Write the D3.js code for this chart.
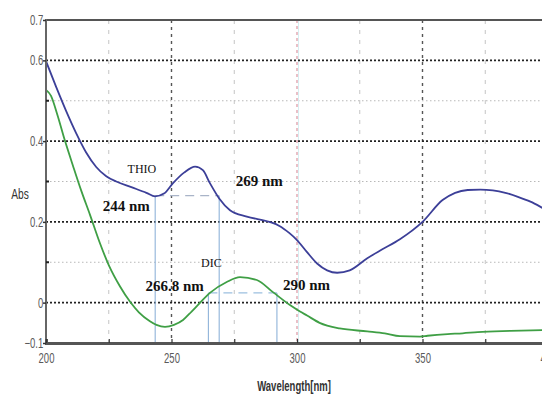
<!DOCTYPE html>
<html>
<head>
<meta charset="utf-8">
<script src="https://cdn.jsdelivr.net/npm/d3@7"></script>
<style>
  html, body { margin: 0; padding: 0; background: #fff; }
  svg { display: block; }
  .tick-label { font-family: "Liberation Sans", Arial, sans-serif; fill: #5a5a5a; font-size: 14px; }
  .note { font-family: "Liberation Serif", "DejaVu Serif", serif; fill: #111; }
</style>
</head>
<body>
<svg id="chart" width="542" height="396"></svg>
<script>
// ---- data ----
const thioWavelength = [200, 204, 208, 212, 216, 220, 224, 228, 234, 240, 243.5, 247, 250.6, 255, 259.4, 262.5, 265.3, 269, 273.3, 280, 289, 293, 297, 300, 304, 308, 312, 316, 321, 328, 334, 341, 350, 358, 363, 368, 373, 378, 383, 388, 393, 398, 405];
const thioAbs        = [0.598, 0.535, 0.475, 0.42, 0.372, 0.336, 0.313, 0.300, 0.286, 0.272, 0.263, 0.270, 0.296, 0.322, 0.337, 0.328, 0.296, 0.258, 0.229, 0.213, 0.200, 0.190, 0.172, 0.155, 0.125, 0.097, 0.080, 0.074, 0.080, 0.110, 0.132, 0.157, 0.200, 0.254, 0.272, 0.279, 0.280, 0.278, 0.272, 0.262, 0.250, 0.234, 0.210];

const dicWavelength = [200, 202, 204.4, 207.5, 210.8, 214, 217.5, 221.5, 225, 229.5, 233.5, 237, 241.4, 244, 247.4, 251, 254.6, 258, 260.2, 265.3, 272, 277.3, 284, 290.4, 297.2, 301.2, 304, 309, 317, 328, 335, 341, 349, 352, 360, 366, 372, 385, 398, 405];
const dicAbs        = [0.527, 0.512, 0.468, 0.402, 0.338, 0.278, 0.218, 0.147, 0.093, 0.040, 0.002, -0.024, -0.046, -0.055, -0.060, -0.055, -0.043, -0.022, -0.008, 0.024, 0.051, 0.063, 0.056, 0.026, -0.006, -0.022, -0.032, -0.050, -0.064, -0.071, -0.076, -0.083, -0.084, -0.082, -0.078, -0.076, -0.073, -0.070, -0.068, -0.067];

const xTickValues = [200, 225, 250, 275, 300, 325, 350, 375, 400];
const xTickLabels = ["200", "", "250", "", "300", "", "350", "", "400"];
const yTickLabels = [0.7, 0.6, 0.4, 0.2, 0, -0.1];
const yMinorValues = [0.5, 0.3, 0.1];
const yMajorGrid = [0.6, 0.4, 0.2, 0];
const xMinorGrid = [225, 275, 325, 375];
const xMajorGrid = [250, 350];
const xCursorGrid = [300];

// peak/valley markers
const thioMarkers = [243.5, 269];
const thioMarkerLevel = 0.265;
const dicMarkers = [264.7, 292];
const dicMarkerLevel = 0.024;

const annotations = [
  { text: "THIO", wl: 232.5, abs: 0.322, size: 12, weight: "normal" },
  { text: "244 nm", wl: 222.6, abs: 0.226, size: 15, weight: "bold" },
  { text: "269 nm", wl: 275.6, abs: 0.288, size: 15, weight: "bold" },
  { text: "DIC", wl: 261.8, abs: 0.087, size: 12, weight: "normal" },
  { text: "266.8 nm", wl: 239.6, abs: 0.030, size: 15, weight: "bold" },
  { text: "290 nm", wl: 294.4, abs: 0.032, size: 15, weight: "bold" }
];

// ---- layout ----
const svg = d3.select("#chart");
const mLeft = 46, mTop = 20, mBottom = 343, mRight = 548;
const x = d3.scaleLinear().domain([200, 400]).range([mLeft, mRight]);
const y = d3.scaleLinear().domain([-0.1, 0.7]).range([mBottom, mTop]);
const squeeze = 0.68;

svg.append("defs").append("clipPath").attr("id", "clip")
  .append("rect").attr("x", mLeft).attr("y", mTop).attr("width", mRight - mLeft).attr("height", mBottom - mTop);

const grid = svg.append("g");
grid.selectAll(".hmin").data(yMinorValues).join("line")
  .attr("x1", mLeft).attr("x2", 542).attr("y1", d => y(d)).attr("y2", d => y(d))
  .attr("stroke", "#b8b8b8").attr("stroke-width", 1).attr("stroke-dasharray", "1.5,2.5");
grid.selectAll(".vmin").data(xMinorGrid).join("line")
  .attr("x1", d => x(d)).attr("x2", d => x(d)).attr("y1", mTop).attr("y2", mBottom)
  .attr("stroke", "#c4c4c4").attr("stroke-width", 1).attr("stroke-dasharray", "4,6");
grid.selectAll(".vmaj").data(xMajorGrid).join("line")
  .attr("x1", d => x(d)).attr("x2", d => x(d)).attr("y1", mTop).attr("y2", mBottom)
  .attr("stroke", "#555").attr("stroke-width", 1.4).attr("stroke-dasharray", "3,4");
grid.selectAll(".vcur").data(xCursorGrid).join("line")
  .attr("x1", d => x(d) + 1.5).attr("x2", d => x(d) + 1.5).attr("y1", mTop).attr("y2", mBottom)
  .attr("stroke", "#d6eef2").attr("stroke-width", 1);
grid.selectAll(".vcur2").data(xCursorGrid).join("line")
  .attr("x1", d => x(d)).attr("x2", d => x(d)).attr("y1", mTop).attr("y2", mBottom)
  .attr("stroke", "#d98c9a").attr("stroke-width", 1.1).attr("stroke-dasharray", "3,3");
grid.selectAll(".hmaj").data(yMajorGrid).join("line")
  .attr("x1", mLeft).attr("x2", 542).attr("y1", d => y(d)).attr("y2", d => y(d))
  .attr("stroke", "#222").attr("stroke-width", 1.8).attr("stroke-dasharray", "2,2");

// marker lines
const mk = svg.append("g");
const thioSeries = thioWavelength.map((w, i) => [w, thioAbs[i]]);
const dicSeries = dicWavelength.map((w, i) => [w, dicAbs[i]]);
mk.selectAll(".tv").data(thioMarkers).join("line")
  .attr("x1", d => x(d)).attr("x2", d => x(d)).attr("y1", y(thioMarkerLevel)).attr("y2", mBottom)
  .attr("stroke", "#8fb3d9").attr("stroke-width", 1.1);
mk.append("line")
  .attr("x1", x(thioMarkers[0])).attr("x2", x(thioMarkers[1])).attr("y1", y(thioMarkerLevel)).attr("y2", y(thioMarkerLevel))
  .attr("stroke", "#a9b4c8").attr("stroke-width", 1.2).attr("stroke-dasharray", "9,6");
mk.selectAll(".dv").data(dicMarkers).join("line")
  .attr("x1", d => x(d)).attr("x2", d => x(d)).attr("y1", y(dicMarkerLevel)).attr("y2", mBottom)
  .attr("stroke", "#8fb3d9").attr("stroke-width", 1.1);
mk.append("line")
  .attr("x1", x(dicMarkers[0])).attr("x2", x(dicMarkers[1])).attr("y1", y(dicMarkerLevel)).attr("y2", y(dicMarkerLevel))
  .attr("stroke", "#9cc0e0").attr("stroke-width", 1.2).attr("stroke-dasharray", "9,6");

// curves
const line = d3.line().x(d => x(d[0])).y(d => y(d[1])).curve(d3.curveMonotoneX);
const curves = svg.append("g").attr("clip-path", "url(#clip)");
curves.append("path").datum(dicSeries).attr("d", line)
  .attr("fill", "none").attr("stroke", "#3f9f45").attr("stroke-width", 1.8);
curves.append("path").datum(thioSeries).attr("d", line)
  .attr("fill", "none").attr("stroke", "#3c3f98").attr("stroke-width", 1.8);

// frame / axes
svg.append("line").attr("x1", mLeft).attr("x2", 542).attr("y1", mTop).attr("y2", mTop)
  .attr("stroke", "#555").attr("stroke-width", 2);
svg.append("line").attr("x1", mLeft).attr("x2", mLeft).attr("y1", mTop - 1).attr("y2", mBottom)
  .attr("stroke", "#666").attr("stroke-width", 2);

const xAxis = d3.axisBottom(x).tickValues(xTickValues).tickSize(-4).tickPadding(10)
  .tickFormat((d, i) => xTickLabels[i]);
const gx = svg.append("g").attr("transform", `translate(0,${mBottom})`).call(xAxis);
gx.select(".domain").attr("stroke", "#555").attr("stroke-width", 3);
gx.selectAll(".tick line").attr("stroke", "#333").attr("stroke-width", 1.2);
gx.selectAll(".tick text").attr("class", "tick-label").attr("dy", "0.71em")
  .attr("transform", `scale(${squeeze},1)`);

const yAxis = d3.axisLeft(y).tickValues(yTickLabels).tickSize(3).tickPadding(1)
  .tickFormat(d => d === 0 ? "0" : d3.format(".1f")(d));
const gy = svg.append("g").attr("transform", `translate(${mLeft},0)`).call(yAxis);
gy.select(".domain").remove();
gy.selectAll(".tick line").attr("stroke", "#333").attr("stroke-width", 1.5);
gy.selectAll(".tick text").attr("class", "tick-label")
  .attr("transform", `scale(${squeeze},1)`);

svg.append("g").selectAll("line").data(yMinorValues).join("line")
  .attr("x1", mLeft).attr("x2", mLeft + 3).attr("y1", d => y(d)).attr("y2", d => y(d))
  .attr("stroke", "#222").attr("stroke-width", 2);

// axis titles
svg.append("text").attr("class", "tick-label")
  .attr("transform", `translate(20,195) scale(${squeeze},1)`)
  .attr("text-anchor", "middle").attr("dominant-baseline", "middle")
  .style("fill", "#333").style("font-size", "15px").text("Abs");
svg.append("text").attr("class", "tick-label")
  .attr("transform", `translate(294,391) scale(${squeeze},1)`)
  .attr("text-anchor", "middle")
  .style("fill", "#333").style("font-size", "14px").style("font-weight", "bold").text("Wavelength[nm]");

// annotations
svg.append("g").selectAll("text").data(annotations).join("text")
  .attr("class", "note")
  .attr("x", d => x(d.wl)).attr("y", d => y(d.abs))
  .style("font-size", d => d.size + "px").style("font-weight", d => d.weight)
  .text(d => d.text);
</script>
</body>
</html>
